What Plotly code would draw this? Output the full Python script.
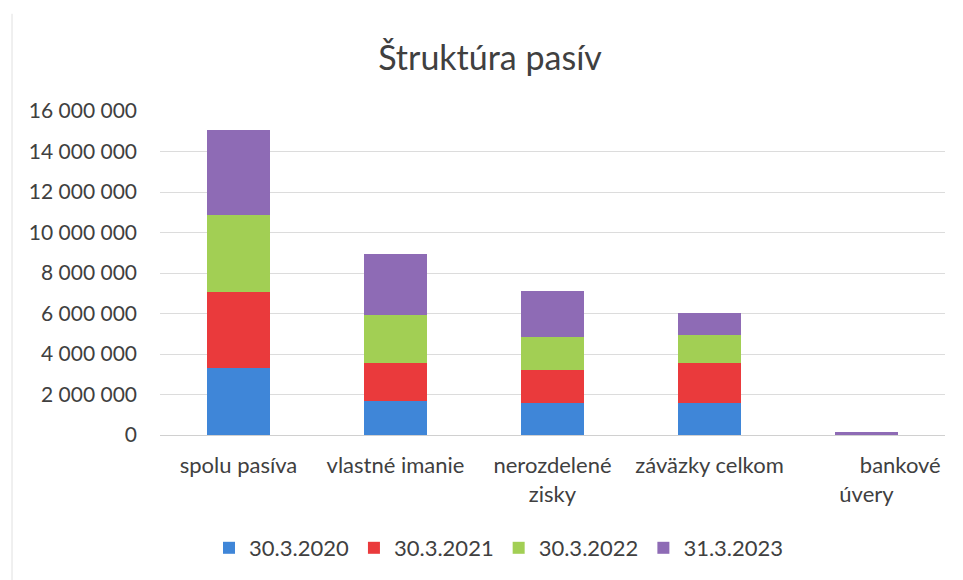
import plotly.graph_objects as go

categories = ["spolu pasíva", "vlastné imanie", "nerozdelené zisky", "záväzky celkom", "bankové úvery"]
tick_labels = ["spolu pasíva", "vlastné imanie", "nerozdelené<br>zisky", "záväzky celkom",
               "\u00a0" * 12 + "bankové<br>úvery"]
series_names = ["30.3.2020", "30.3.2021", "30.3.2022", "31.3.2023"]
v_2020 = [3330000, 1690000, 1590000, 1590000, 0]
v_2021 = [3730000, 1890000, 1640000, 1990000, 0]
v_2022 = [3810000, 2330000, 1630000, 1380000, 0]
v_2023 = [4190000, 3040000, 2270000, 1070000, 150000]
y_ticks = [0, 2000000, 4000000, 6000000, 8000000, 10000000, 12000000, 14000000, 16000000]
y_tick_text = ["0", "2 000 000", "4 000 000", "6 000 000", "8 000 000", "10 000 000", "12 000 000", "14 000 000", "16 000 000"]

colors = ["#3f86d8", "#ea3a3c", "#a2cf54", "#8e6bb5"]
FONT = "Lato, Open Sans, sans-serif"

fig = go.Figure()
for name, vals, col in zip(series_names, [v_2020, v_2021, v_2022, v_2023], colors):
    fig.add_trace(go.Bar(name=name, x=categories, y=vals, marker=dict(color=col, line=dict(width=0))))

fig.update_layout(
    barmode="stack",
    bargap=0.6,
    width=963, height=580,
    paper_bgcolor="white", plot_bgcolor="white",
    margin=dict(l=152, r=26, t=103, b=153),
    font=dict(family=FONT, color="#404040", size=20),
    title=dict(text="Štruktúra pasív", x=482 / 963, xref="container", xanchor="center",
               y=1 - 50 / 580, yref="container", yanchor="middle",
               font=dict(size=34, family=FONT, color="#404040")),
    xaxis=dict(tickmode="array", tickvals=categories, ticktext=tick_labels,
               showline=False, ticks="", tickfont=dict(size=22), showgrid=False,
               ticklabelstandoff=15, tickangle=0, automargin=False),
    yaxis=dict(range=[0, 16000000], tickmode="array", tickvals=y_ticks, ticktext=y_tick_text,
               showgrid=True, gridcolor="#dcdcdc", gridwidth=1, zeroline=True,
               zerolinecolor="#d0d0d0", zerolinewidth=1, ticks="", ticklabelstandoff=22,
               tickfont=dict(size=21), automargin=False),
    legend=dict(orientation="h", xref="container", yref="container",
                x=491 / 963, xanchor="center", y=1 - 540 / 580, yanchor="middle",
                font=dict(size=22), itemwidth=30, traceorder="normal"),
)
fig.add_shape(type="line", xref="paper", yref="paper", x0=-0.1885, x1=-0.1885, y0=-0.45, y1=1.3,
              line=dict(color="#e0e0e0", width=1))

fig.write_html("out.html")
